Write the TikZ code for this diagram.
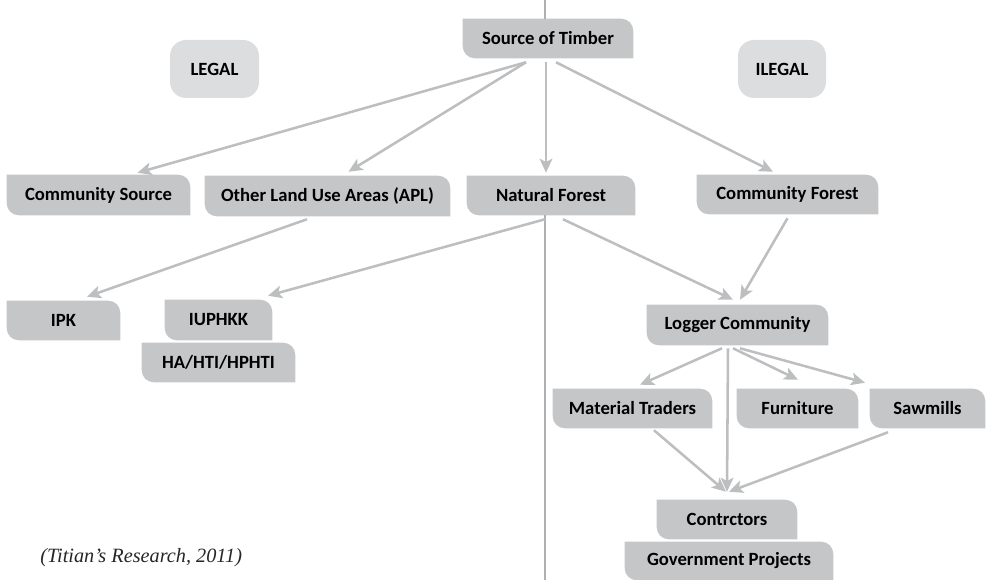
\documentclass[tikz,border=0pt]{standalone}
\usepackage{fontspec}
\setmainfont{Carlito}
\newfontfamily\srcfont{Liberation Serif}
\usetikzlibrary{arrows.meta,calc}
\definecolor{boxfill}{HTML}{C5C6C8}
\definecolor{lgfill}{HTML}{DCDDDE}
\definecolor{arrcol}{HTML}{BCBEC0}
\definecolor{divcol}{HTML}{AEB0B2}
\pgfdeclarelayer{background}
\pgfsetlayers{background,main}
\tikzset{
  tb/.style={inner sep=0pt, font=\bfseries\fontsize{14}{16}\selectfont, text=black},
  lg/.style={tb, fill=lgfill, rounded corners=12pt},
  arr/.style={draw=arrcol, line width=1.9pt, -{Stealth[length=10.5pt,width=9.5pt,inset=2.5pt]}},
  divider/.style={draw=divcol, line width=1.3pt}
}
\newcommand\bx[6]{\node[tb, minimum width={(#4-#2)*0.75pt}, minimum height={(#5-#3)*0.75pt}] (#1) at ({(#2+#4)/2},{-(#3+#5)/2}) {#6};}
\begin{document}
\begin{tikzpicture}[x=0.75pt,y=0.75pt]
\useasboundingbox (0,0) rectangle (999,-580);
% boxes
\bx{src}{463}{19}{633}{58}{Source of Timber}
\bx{cs}{7}{175}{190}{215}{Community Source}
\bx{apl}{205}{176}{450}{216}{Other Land Use Areas (APL)}
\bx{nat}{467}{176}{635}{215}{Natural Forest}
\bx{cf}{697}{175}{878}{214}{Community Forest}
\bx{ipk}{7}{301}{120}{340}{IPK}
\bx{iup}{165}{300}{272}{340}{IUPHKK}
\bx{ha}{142}{343}{295}{382}{HA/HTI/HPHTI}
\bx{log}{647}{305}{828}{345}{Logger Community}
\bx{mt}{553}{389}{712}{428}{Material Traders}
\bx{fur}{737}{389}{858}{428}{Furniture}
\bx{saw}{870}{389}{985}{428}{Sawmills}
\bx{con}{657}{500}{797}{539}{Contrctors}
\bx{gov}{625}{542}{833}{580}{Government Projects}
\begin{pgfonlayer}{background}
\foreach \n in {src,cs,apl,nat,cf,ipk,iup,ha,log,mt,fur,saw,con,gov}{
  \fill[boxfill] (\n.north west) -- ([xshift=-9pt]\n.north east) arc[start angle=90,end angle=0,radius=9pt]
    -- (\n.south east) -- ([xshift=9pt]\n.south west) arc[start angle=270,end angle=180,radius=9pt] -- cycle;
}
\end{pgfonlayer}
% legal / ilegal
\node[lg, minimum width=89*0.75pt, minimum height=58*0.75pt] (legal) at (214.5,-69) {LEGAL};
\node[lg, minimum width=88*0.75pt, minimum height=58*0.75pt] (ilegal) at (782,-69) {ILEGAL};
% divider
\coordinate (dtop) at (545,0);
\coordinate (dbot) at (545,-580);
\draw[divider] (dtop) -- ($(src.north)+(-3,0)$);
\draw[divider] ($(nat.south)+(-6,0)$) -- (dbot);
% connectors
\draw[arr] ($(src.south)+(-22,-4)$) -- ($(cs.north)+(39,2)$);
\draw[arr] ($(src.south)+(-22,-4)$) -- ($(apl.north)+(21,4)$);
\draw[arr] ($(src.south)+(-2,-4)$) -- ($(nat.north)+(-5,3)$);
\draw[arr] ($(src.south)+(8,-4)$) -- ($(cf.north)+(-14.5,3)$);
\draw[arr] ($(apl.south)+(-20.5,-3)$) -- ($(ipk.north)+(23.5,4)$);
\draw[arr] ($(nat.south)+(-6,-4)$) -- ($(iup.north)+(49.5,4)$);
\draw[arr] ($(nat.south)+(12,-4)$) -- ($(log.north)+(-4.5,5)$);
\draw[arr] ($(cf.south)+(0,-4)$) -- ($(log.north)+(2.5,5)$);
\draw[arr] ($(log.south)+(-15.5,-3)$) -- ($(mt.north)+(7.5,4)$);
\draw[arr] ($(log.south)+(-9.5,-3)$) -- ($(con.north)+(0,8)$);
\draw[arr] ($(log.south)+(-4.5,-3)$) -- ($(fur.north)+(0.5,9)$);
\draw[arr] ($(log.south)+(2.5,-3)$) -- ($(saw.north)+(-62.5,6)$);
\draw[arr] ($(mt.south)+(21.5,-2)$) -- ($(con.north)+(-1,8)$);
\draw[arr] ($(saw.south)+(-39.5,-4)$) -- ($(con.north)+(2,8)$);
% citation
\node[anchor=west, inner sep=0pt, font=\srcfont\itshape\fontsize{15.2}{17}\selectfont, text=black!85] (cite) at (40,-558) {(Titian’s Research, 2011)};
\end{tikzpicture}
\end{document}
